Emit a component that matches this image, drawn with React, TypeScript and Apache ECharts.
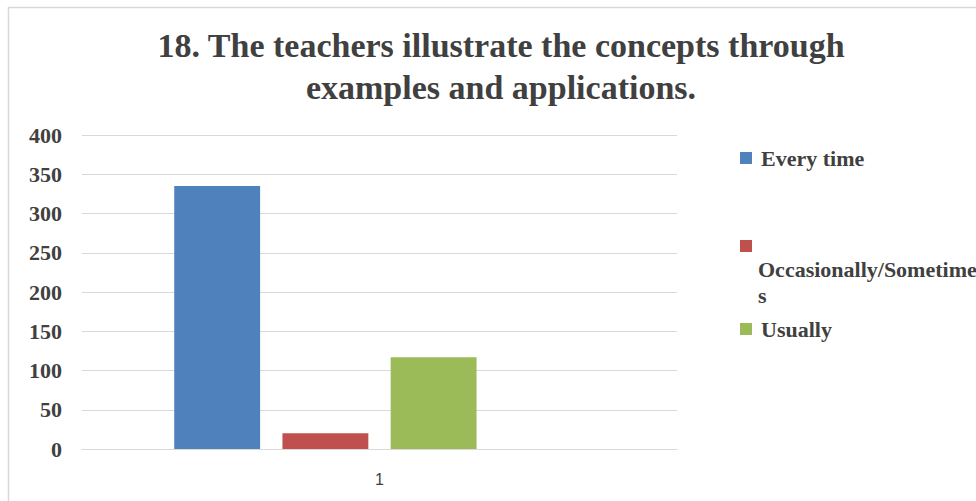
import React, { useEffect, useRef } from "react";
import * as echarts from "echarts";

const titleLines = ["18. The teachers illustrate the concepts through", "examples and applications."];
const categories = ["1"];
const seriesNames = ["Every time", "Occasionally/Sometimes", "Usually"];
const everyTime = [335];
const occasionally = [20];
const usually = [117];
const emptySlot: (number | null)[] = [null];
const seriesColors = ["#4F81BD", "#C0504D", "#9BBB59"];
const yTicks = { min: 0, max: 400, interval: 50 };

const serif = "'Liberation Serif', 'Times New Roman', serif";

export default function App() {
  const ref = useRef<HTMLDivElement>(null);
  useEffect(() => {
    document.body.style.margin = "0";
    if (!ref.current) return;
    const chart = echarts.init(ref.current, null, { renderer: "svg" });
    const legendText = {
      fontFamily: serif,
      fontWeight: "bold" as const,
      fontSize: 22,
      color: "#404040",
    };
    chart.setOption({
      animation: false,
      backgroundColor: "#ffffff",
      title: {
        text: titleLines.join("\n"),
        left: 501,
        top: 24,
        textAlign: "center",
        padding: 0,
        textStyle: {
          fontFamily: serif,
          fontWeight: "bold",
          fontSize: 34,
          lineHeight: 42,
          color: "#404040",
        },
      },
      legend: [
        {
          data: [seriesNames[0]],
          left: 740,
          top: 146,
          padding: 0,
          itemWidth: 12,
          itemHeight: 12,
          icon: "rect",
          selectedMode: false,
          textStyle: { ...legendText, lineHeight: 24, padding: [0, 0, 0, 4] },
        },
        {
          data: [seriesNames[1]],
          left: 740,
          top: 209,
          padding: 0,
          itemWidth: 12,
          itemHeight: 12,
          icon: "rect",
          selectedMode: false,
          formatter: () => "{pad| }\n{t|Occasionally/Sometime}\n{t|s}",
          textStyle: {
            ...legendText,
            rich: {
              pad: { ...legendText, lineHeight: 72, padding: [0, 0, 0, 1] },
              t: { ...legendText, lineHeight: 26, padding: [0, 0, 0, 1] },
            },
          },
        },
        {
          data: [seriesNames[2]],
          left: 740,
          top: 317,
          padding: 0,
          itemWidth: 12,
          itemHeight: 12,
          icon: "rect",
          selectedMode: false,
          textStyle: { ...legendText, lineHeight: 24, padding: [0, 0, 0, 4] },
        },
      ],
      grid: {
        left: 82,
        right: 299,
        top: 135,
        bottom: 52,
        containLabel: false,
        outerBoundsMode: "none",
      },
      xAxis: {
        type: "category",
        data: categories,
        axisLine: { show: true, lineStyle: { color: "#d9d9d9", width: 1 } },
        axisTick: { show: false },
        axisLabel: {
          margin: 22,
          fontFamily: "'Liberation Sans', 'Open Sans', sans-serif",
          fontSize: 16,
          color: "#404040",
        },
      },
      yAxis: {
        type: "value",
        min: yTicks.min,
        max: yTicks.max,
        interval: yTicks.interval,
        axisLine: { show: false },
        axisTick: { show: false },
        splitLine: { lineStyle: { color: "#d9d9d9", width: 1 } },
        axisLabel: {
          margin: 20,
          fontFamily: serif,
          fontWeight: "bold",
          fontSize: 22,
          color: "#404040",
        },
      },
      graphic: [
        {
          type: "polyline",
          silent: true,
          shape: { points: [[8.5, 501], [8.5, 7.5], [976, 7.5]] },
          style: { stroke: "#d9d9d9", lineWidth: 1.5, fill: null },
        },
      ],
      series: [
        {
          name: seriesNames[0],
          type: "bar",
          data: everyTime,
          itemStyle: { color: seriesColors[0] },
          barGap: "26%",
          barCategoryGap: "31%",
        },
        { name: seriesNames[1], type: "bar", data: occasionally, itemStyle: { color: seriesColors[1] } },
        { name: seriesNames[2], type: "bar", data: usually, itemStyle: { color: seriesColors[2] } },
        { name: "", type: "bar", data: emptySlot },
      ],
    });
    return () => chart.dispose();
  }, []);
  return <div ref={ref} style={{ width: 976, height: 501 }} />;
}
